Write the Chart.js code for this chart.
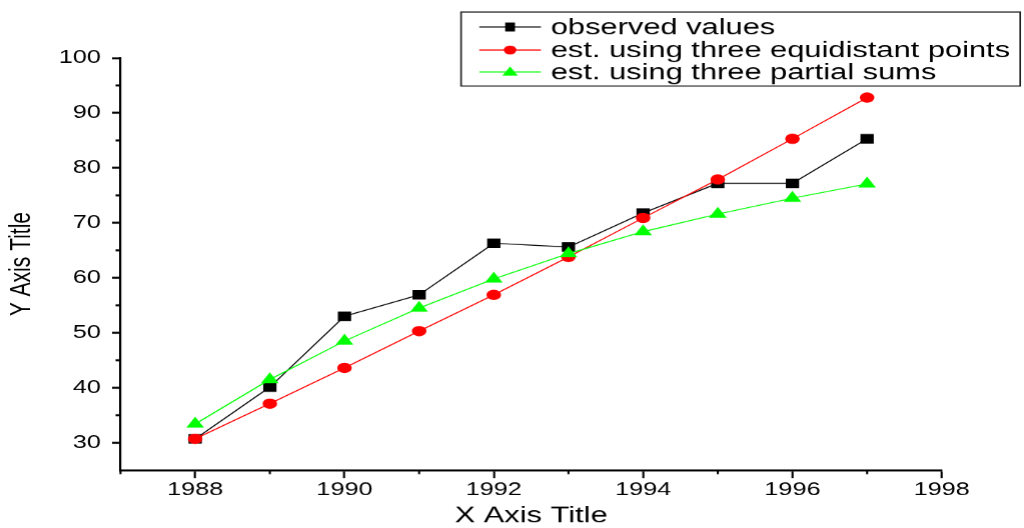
<!DOCTYPE html>
<html>
<head>
<meta charset="utf-8">
<script src="https://cdn.jsdelivr.net/npm/chart.js@4/dist/chart.umd.min.js"></script>
<style>
  html, body { margin: 0; padding: 0; background: #fff; overflow: hidden; }
  #wrap { width: 1024px; height: 528px; }
  /* the reference is stretched sideways, so draw narrow and widen */
  #c { transform: scaleX(1.4008); transform-origin: 0 0; }
</style>
</head>
<body>
<div id="wrap"><canvas id="c" width="731" height="528"></canvas></div>
<script>
// ==========================================
// data
// ==========================================

const years = [1988, 1989, 1990, 1991, 1992, 1993, 1994, 1995, 1996, 1997];

const observed = [30.7, 40.1, 53.0, 56.9, 66.3, 65.6, 71.8, 77.2, 77.2, 85.3];

const equidistant = [30.7, 37.1, 43.6, 50.3, 56.9, 63.8, 70.9, 77.9, 85.3, 92.8];

const partialSums = [33.4, 41.5, 48.5, 54.5, 59.8, 64.4, 68.4, 71.6, 74.5, 77.1];

const seriesNames = [
    "observed values",
    "est. using three equidistant points",
    "est. using three partial sums"
];

const xTicks = [1988, 1990, 1992, 1994, 1996, 1998];
const xMinor = [1987, 1989, 1991, 1993, 1995, 1997];
const yTicks = [30, 40, 50, 60, 70, 80, 90, 100];
const yMinor = [35, 45, 55, 65, 75, 85, 95];

const FONT = "'Liberation Sans', Arial, sans-serif";

function points(values){
    return values.map((v, i) => ({ x: years[i], y: v }));
}

// ==========================================
// minor ticks + legend box
// ==========================================

const extras = {
    id: "extras",
    afterDraw(chart){
        const c = chart.ctx;
        const xs = chart.scales.x;
        const ys = chart.scales.y;

        c.save();
        c.strokeStyle = "#000";

        c.lineWidth = 1.5;
        xMinor.forEach(v => {
            const px = xs.getPixelForValue(v);
            c.beginPath();
            c.moveTo(px, xs.top);
            c.lineTo(px, xs.top + 4);
            c.stroke();
        });

        c.lineWidth = 2;
        yMinor.forEach(v => {
            const py = ys.getPixelForValue(v);
            c.beginPath();
            c.moveTo(ys.right, py);
            c.lineTo(ys.right - 3.5, py);
            c.stroke();
        });

        // legend
        const bx = 329, by = 12, bw = 399, bh = 74;
        c.fillStyle = "#fff";
        c.fillRect(bx, by, bw, bh);
        c.lineWidth = 1.2;
        c.strokeStyle = "#222";
        c.strokeRect(bx, by, bw, bh);

        const rows = [27, 50, 72];
        chart.data.datasets.forEach((ds, i) => {
            const y = rows[i];
            c.strokeStyle = ds.borderColor;
            c.lineWidth = 1;
            c.beginPath();
            c.moveTo(342, y);
            c.lineTo(386, y);
            c.stroke();

            c.fillStyle = ds.backgroundColor;
            c.beginPath();
            if (ds.pointStyle === "rect") {
                c.rect(360.5, y - 4.5, 7, 9);
            } else if (ds.pointStyle === "circle") {
                c.arc(364, y, 4.5, 0, Math.PI * 2);
            } else {
                c.moveTo(364, y - 5.5);
                c.lineTo(369.5, y + 3.5);
                c.lineTo(358.5, y + 3.5);
                c.closePath();
            }
            c.fill();

            c.fillStyle = "#000";
            c.font = "22px " + FONT;
            c.textBaseline = "middle";
            c.textAlign = "left";
            c.fillText(seriesNames[i], 393, y + 1);
        });

        c.restore();
    }
};

// ==========================================
// chart
// ==========================================

new Chart(document.getElementById("c"), {

    type: "line",

    data: {
        datasets: [
            {
                label: seriesNames[0],
                data: points(observed),
                borderColor: "#000000",
                backgroundColor: "#000000",
                borderWidth: 1,
                pointStyle: "rect",
                pointRadius: 6,
                order: 2
            },
            {
                label: seriesNames[1],
                data: points(equidistant),
                borderColor: "#ff0000",
                backgroundColor: "#ff0000",
                borderWidth: 1,
                pointStyle: "circle",
                pointRadius: 4.7,
                order: 1
            },
            {
                label: seriesNames[2],
                data: points(partialSums),
                borderColor: "#00ff00",
                backgroundColor: "#00ff00",
                borderWidth: 1,
                pointStyle: "triangle",
                pointRadius: 6.3,
                order: 0
            }
        ]
    },

    options: {
        responsive: false,
        devicePixelRatio: 1.4,
        animation: false,
        clip: false,
        layout: { padding: { top: 58, right: 59, left: 0, bottom: 0 } },
        elements: {
            line: { tension: 0 },
            point: { borderWidth: 0, hoverRadius: 6 }
        },
        plugins: {
            legend: { display: false },
            tooltip: { enabled: false }
        },
        scales: {
            x: {
                type: "linear",
                min: 1987,
                max: 1998,
                afterBuildTicks: s => { s.ticks = xTicks.map(v => ({ value: v })); },
                afterFit: s => { s.height = 58; },
                border: { display: true, color: "#000", width: 2 },
                grid: {
                    drawOnChartArea: false,
                    drawTicks: true,
                    tickLength: 8,
                    tickWidth: 1.5,
                    tickColor: "#000"
                },
                ticks: {
                    color: "#000",
                    font: { family: FONT, size: 18 },
                    padding: 1,
                    maxRotation: 0,
                    callback: v => String(v)
                },
                title: {
                    display: true,
                    text: "X Axis Title",
                    color: "#000",
                    font: { family: FONT, size: 22 },
                    padding: { top: 0, bottom: -1 }
                }
            },
            y: {
                type: "linear",
                min: 25,
                max: 100,
                afterBuildTicks: s => { s.ticks = yTicks.map(v => ({ value: v })); },
                afterFit: s => { s.width = 86; },
                border: { display: true, color: "#000", width: 1.6 },
                grid: {
                    drawOnChartArea: false,
                    drawTicks: true,
                    tickLength: 6,
                    tickWidth: 2,
                    tickColor: "#000"
                },
                ticks: {
                    color: "#000",
                    font: { family: FONT, size: 18 },
                    padding: 8
                },
                title: {
                    display: true,
                    text: "Y Axis Title",
                    color: "#000",
                    font: { family: FONT, size: 21 },
                    padding: { top: 3, bottom: 0 }
                }
            }
        }
    },

    plugins: [extras]

});
</script>
</body>
</html>
